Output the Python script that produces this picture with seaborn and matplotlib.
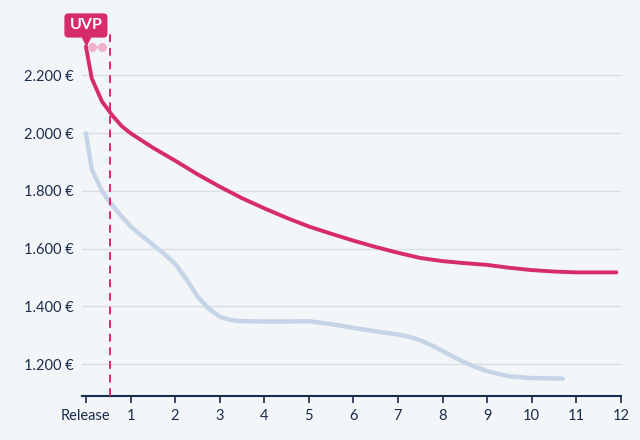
import matplotlib
matplotlib.use("Agg")
import matplotlib.pyplot as plt
import seaborn as sns
import pandas as pd

# price curve after release (months), values in EUR
uvp_x = [0, 0.13, 0.36, 0.6, 0.8, 1, 1.5, 2, 2.5, 3, 3.5, 4, 4.5, 5, 5.5, 6, 6.5,
         7, 7.5, 8, 8.5, 9, 9.5, 10, 10.5, 11, 11.5, 11.9]
uvp_y = [2300, 2190, 2110, 2060, 2025, 2000, 1950, 1905, 1858, 1815, 1775, 1740, 1707,
         1677, 1652, 1628, 1606, 1586, 1568, 1557, 1550, 1544, 1534, 1526, 1521, 1518,
         1518, 1518]

street_x = [0, 0.13, 0.36, 0.54, 0.8, 1, 1.25, 1.5, 1.75, 2, 2.25, 2.5, 2.75, 3, 3.25,
            3.5, 4, 4.5, 5, 5.5, 6, 6.5, 7, 7.25, 7.5, 7.75, 8, 8.25, 8.5, 8.75, 9,
            9.5, 10, 10.5, 10.7]
street_y = [2000, 1875, 1800, 1760, 1712, 1678, 1645, 1614, 1583, 1548, 1495, 1436, 1393,
            1365, 1353, 1349, 1348, 1348, 1349, 1339, 1326, 1314, 1303, 1295, 1283, 1266,
            1246, 1225, 1206, 1190, 1176, 1158, 1152, 1151, 1150]

marker_x = [0.13, 0.36]
marker_y = [2300, 2300]
release_line_x = 0.54

xticks = list(range(0, 13))
xtick_labels = ["Release"] + [str(i) for i in range(1, 13)]
yticks = [1200, 1400, 1600, 1800, 2000, 2200]

RED = "#d62c6a"
BLUE = "#c6d4e7"
NAVY = "#1b2b4b"
BG = "#f3f6f9"

sns.set_theme(style="white")
plt.rcParams["font.family"] = ["Lato", "DejaVu Sans"]

fig = plt.figure(figsize=(6.4, 4.4), dpi=100, facecolor=BG)
ax = fig.add_axes([0.128, 0.1, 0.842, 0.827], facecolor=BG)

df_uvp = pd.DataFrame({"x": uvp_x, "y": uvp_y})
df_street = pd.DataFrame({"x": street_x, "y": street_y})

sns.lineplot(data=df_street, x="x", y="y", ax=ax, color=BLUE, lw=3.2,
             solid_capstyle="round", solid_joinstyle="round", sort=False)
sns.lineplot(data=df_uvp, x="x", y="y", ax=ax, color=RED, lw=2.8,
             solid_capstyle="round", solid_joinstyle="round", sort=False)
ax.plot(marker_x, marker_y, color="#f1b3cb", lw=1.5, marker="o", ms=5.5, zorder=3)

ax.axvline(release_line_x, color=RED, lw=1.4, ls=(0, (4, 3)), zorder=4)

ax.set_xlim(-0.09, 12)
ax.set_ylim(1090, 2350)
ax.set_yticks(yticks)
ax.set_yticklabels([f"{v:,}".replace(",", ".") + " €" for v in yticks])
ax.set_xticks(xticks)
ax.set_xticklabels(xtick_labels)
ax.grid(axis="y", color="#d9dde3", lw=1)
ax.set_axisbelow(True)
ax.set_xlabel("")
ax.set_ylabel("")

for s in ["top", "right", "left"]:
    ax.spines[s].set_visible(False)
ax.spines["bottom"].set_color(NAVY)
ax.spines["bottom"].set_linewidth(1.5)
ax.tick_params(axis="x", colors=NAVY, length=5, width=1.2, direction="out",
               labelsize=10.5, pad=4, bottom=True)
ax.tick_params(axis="y", colors=NAVY, length=0, labelsize=10.5, pad=6)
for lbl in ax.get_xticklabels() + ax.get_yticklabels():
    lbl.set_color(NAVY)

# UVP callout
ax.plot([0], [2318], marker="v", color=RED, ms=6, clip_on=False, zorder=6)
ax.text(0, 2373, "UVP", color="white", fontsize=11.5, fontweight="bold",
        ha="center", va="center", clip_on=False, zorder=7,
        bbox=dict(boxstyle="round,pad=0.32,rounding_size=0.25", fc=RED, ec="none"))

fig.savefig("out.png", dpi=100, facecolor=BG)
